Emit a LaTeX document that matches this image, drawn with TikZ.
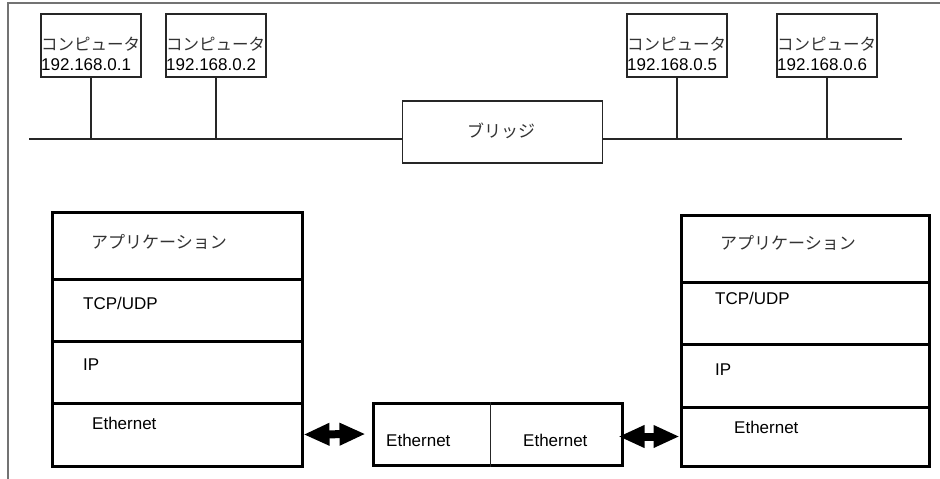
\documentclass[tikz,border=0pt]{standalone}
\usepackage{fontspec}
\setmainfont{Liberation Sans}
\newfontfamily\jpfont{Noto Sans CJK JP}
\usetikzlibrary{arrows.meta}
\begin{document}
\begin{tikzpicture}[x=1pt,y=-1pt,
  compbox/.style={draw=black!85, line width=1.1pt, minimum width=100pt, minimum height=63pt, inner sep=0pt},
  bridgebox/.style={draw=black!85, line width=1.4pt, minimum width=200pt, minimum height=62pt, inner sep=0pt},
  layer/.style={draw=black, line width=3pt, minimum width=#1, inner sep=0pt},
  lat/.style={font=\fontsize{17}{20}\selectfont, inner sep=0pt, anchor=west},
  jtxt/.style={font=\jpfont\fontsize{16.5}{20}\selectfont, text=black!80, inner sep=0pt, anchor=west},
  wire/.style={draw=black!85, line width=1.1pt},
  dblarrow/.style={line width=8pt, {Triangle[length=26pt,width=21pt]}-{Triangle[length=26pt,width=21pt]}}
]
\useasboundingbox (0,0) rectangle (940,479);
% frame
\draw[black!55, line width=1.5pt] (8,479) -- (8,3) -- (940,3);

% computers
\node[compbox] (c1) at (91,45.5) {};
\node[compbox] (c2) at (216,45.5) {};
\node[compbox] (c5) at (677,45.5) {};
\node[compbox] (c6) at (827,45.5) {};
\node[jtxt] (c1j) at (41,44) {コンピュータ};
\node[lat]  (c1a) at (41,65) {192.168.0.1};
\node[jtxt] (c2j) at (166,44) {コンピュータ};
\node[lat]  (c2a) at (166,65) {192.168.0.2};
\node[jtxt] (c5j) at (627,44) {コンピュータ};
\node[lat]  (c5a) at (627,65) {192.168.0.5};
\node[jtxt] (c6j) at (777,44) {コンピュータ};
\node[lat]  (c6a) at (777,65) {192.168.0.6};

% bus and bridge
\coordinate (busL) at (29,139);
\coordinate (busR) at (902,139);
\node[bridgebox] (br) at (502.5,132) {};
\node[jtxt, anchor=center, font=\jpfont\fontsize{17}{20}\selectfont] (brt) at (501,131) {ブリッジ};
\draw[wire] (busL) -- (busL -| br.west);
\draw[wire] (busR -| br.east) -- (busR);
\foreach \c in {c1,c2,c5,c6} \draw[wire] (\c.south) -- (\c.south |- busL);

% left stack
\node[layer=250pt, minimum height=67pt] (L1) at (177,245.5) {};
\node[layer=250pt, minimum height=62pt] (L2) at (177,310) {};
\node[layer=250pt, minimum height=62pt] (L3) at (177,372) {};
\node[layer=250pt, minimum height=63pt] (L4) at (177,434.5) {};
\node[jtxt, font=\jpfont\fontsize{17}{20}\selectfont] (L1t) at (91,242) {アプリケーション};
\node[lat] (L2t) at (83,303) {TCP/UDP};
\node[lat] (L3t) at (83,365) {IP};
\node[lat] (L4t) at (92,423) {Ethernet};

% right stack
\node[layer=248pt, minimum height=67pt] (R1) at (805,248.5) {};
\node[layer=248pt, minimum height=62pt] (R2) at (805,313) {};
\node[layer=248pt, minimum height=63pt] (R3) at (805,375.5) {};
\node[layer=248pt, minimum height=59pt] (R4) at (805,436.5) {};
\node[jtxt, font=\jpfont\fontsize{17}{20}\selectfont] (R1t) at (720,243) {アプリケーション};
\node[lat] (R2t) at (715,298) {TCP/UDP};
\node[lat] (R3t) at (715,370) {IP};
\node[lat] (R4t) at (734,427) {Ethernet};

% middle (bridge stack)
\node[layer=249pt, minimum height=62pt] (M) at (497.5,434) {};
\coordinate (Mdiv) at (490,402);
\draw[black!85, line width=1pt] (Mdiv) -- (Mdiv |- M.south);
\node[lat] (M1t) at (386,440) {Ethernet};
\node[lat] (M2t) at (523,440) {Ethernet};

% arrows
\draw[dblarrow] (L4.east) -- ([xshift=-6pt]M.west);
\draw[dblarrow] ([xshift=-5pt]M.east |- R4.west) -- (R4.west);
\end{tikzpicture}
\end{document}
